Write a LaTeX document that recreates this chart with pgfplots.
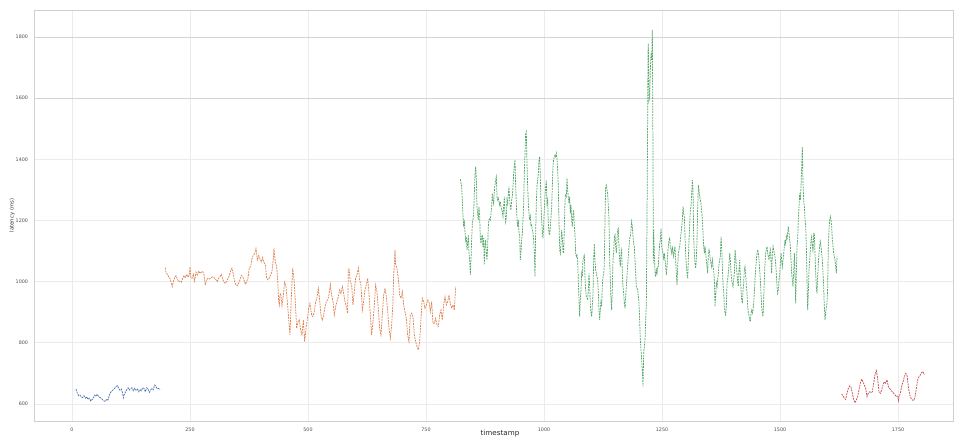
\documentclass[border=0pt]{standalone}
\usepackage{fontspec}
\setmainfont{DejaVu Sans}
\usepackage{pgfplots}
\pgfplotsset{compat=1.18}
\definecolor{sbblue}{HTML}{4C72B0}
\definecolor{sborange}{HTML}{DD8452}
\definecolor{sbgreen}{HTML}{55A868}
\definecolor{sbred}{HTML}{C44E52}
\definecolor{gridc}{HTML}{EBEBEB}
\definecolor{gridd}{HTML}{D4D4D4}
\definecolor{spine}{HTML}{D0D0D0}
\begin{document}
\begin{tikzpicture}
\begin{axis}[
  scale only axis, width=689.25pt, height=308.25pt,
  xmin=-80.5, xmax=1866.5, ymin=544.4, ymax=1888.3,
  xtick={0,250,...,1750}, ytick={600,800,...,1400},
  extra y ticks={1600,1800},
  extra y tick style={grid style={gridd, line width=0.7pt}},
  major tick length=0pt,
  grid=major, grid style={gridc, line width=0.7pt},
  axis line style={spine, line width=0.7pt},
  /pgf/number format/assume math mode=true,
  /pgf/number format/1000 sep={},
  tick label style={font=\fontsize{3.6}{4}\selectfont, text=black!70},
  yticklabel style={xshift=-1pt},
  xticklabel style={yshift=-1.5pt},
  xlabel={timestamp}, ylabel={latency (ms)},
  xlabel style={at={(axis description cs:0.507,-0.0316)}, anchor=center, font=\fontsize{5.4}{6}\selectfont, text=black!85},
  ylabel style={at={(axis description cs:-0.0239,0.5)}, anchor=center, font=\fontsize{4.0}{5}\selectfont, text=black!80},
  every axis plot/.append style={line width=0.55pt, dash pattern=on 1.4pt off 0.7pt},
]
\addplot[sbblue] coordinates {(8.5,649)(11.3,635)(14.1,627)(16.9,629)(19.8,623)(22.6,621)(25.4,627)(28.3,619)(31.1,623)(33.9,615)(36.7,619)(39.6,610)(42.4,614)(45.2,619)(48.0,629)(50.9,625)(53.7,632)(56.5,624)(59.3,621)(62.2,619)(65.0,613)(67.8,610)(70.6,608)(73.5,616)(76.3,613)(79.1,629)(81.9,638)(84.8,643)(87.6,647)(90.4,651)(93.2,657)(96.1,660)(98.9,651)(101.7,645)(104.5,649)(107.3,635)(108.8,621)(110.2,629)(113.0,638)(115.8,646)(118.7,653)(121.5,646)(124.3,651)(127.1,653)(130.0,643)(132.8,651)(135.6,645)(138.4,649)(141.3,640)(144.1,647)(146.9,643)(149.7,653)(152.6,651)(155.4,640)(158.2,653)(161.0,649)(163.9,638)(166.7,646)(169.5,651)(172.3,647)(175.2,662)(178.0,657)(180.8,649)(183.6,651)(186.4,646)};
\addplot[sborange] coordinates {(197.7,1046)(199.1,1031)(201.9,1024)(204.8,1016)(207.6,1011)(210.4,995)(212.5,984)(214.6,1000)(217.5,1013)(220.3,1020)(223.1,1009)(225.9,1000)(228.8,1002)(231.6,998)(234.4,1011)(237.2,1020)(240.1,1013)(242.9,1024)(245.7,1015)(248.5,1022)(250.0,1049)(251.4,1016)(254.2,1011)(257.0,1024)(259.8,1002)(262.7,1031)(265.5,1022)(268.3,1035)(271.1,1027)(274.0,1031)(276.8,1033)(279.6,1024)(282.4,989)(285.3,1006)(288.1,1011)(290.9,1009)(293.7,1011)(296.6,1015)(299.4,1016)(302.2,1011)(305.0,1006)(307.9,1000)(310.7,1011)(313.5,1016)(316.3,1024)(319.2,1009)(322.0,998)(324.8,995)(327.6,1000)(330.5,1011)(333.3,1020)(336.1,1035)(338.9,1044)(341.8,1024)(344.6,1000)(347.4,989)(350.2,987)(353.1,995)(355.9,1006)(358.7,1020)(361.5,1016)(364.4,1006)(367.2,991)(370.0,1000)(372.8,1011)(375.7,1046)(378.5,1049)(381.3,1074)(384.1,1087)(387.0,1092)(389.8,1109)(391.2,1093)(392.6,1071)(395.4,1085)(398.3,1074)(401.1,1065)(403.9,1079)(406.7,1063)(409.6,1055)(412.4,1011)(415.2,1006)(418.0,1013)(420.9,1022)(423.7,1033)(426.5,1076)(427.9,1109)(429.3,1087)(430.7,1065)(433.6,1049)(435.0,1022)(436.4,989)(437.8,935)(439.2,924)(440.6,956)(442.0,962)(443.5,946)(444.9,922)(447.7,956)(450.5,998)(453.3,984)(456.2,935)(459.0,880)(461.8,826)(464.6,946)(467.5,1044)(470.3,1011)(473.1,935)(475.9,847)(478.8,869)(481.6,875)(484.4,842)(487.2,826)(490.1,875)(492.9,804)(495.7,847)(498.5,875)(501.4,913)(504.2,929)(507.7,891)(510.5,886)(513.4,902)(516.2,935)(519.0,946)(521.8,978)(524.7,940)(527.5,891)(530.3,875)(533.1,891)(536.0,918)(538.8,935)(541.6,940)(544.4,956)(547.3,991)(550.1,956)(552.9,935)(555.7,891)(558.6,918)(561.4,935)(564.2,951)(567.0,973)(569.9,962)(572.7,984)(575.5,962)(578.3,935)(581.2,918)(584.0,897)(585.4,1033)(586.8,1044)(589.6,1000)(592.5,989)(595.3,924)(598.1,967)(600.9,1011)(603.8,1022)(606.6,1044)(609.4,1006)(612.2,989)(615.1,907)(617.9,935)(620.7,973)(623.5,989)(626.4,1011)(629.2,962)(632.0,891)(634.8,826)(637.7,869)(640.5,924)(643.3,989)(646.1,967)(649.0,913)(651.8,847)(654.6,826)(657.4,891)(660.3,956)(663.1,978)(665.9,951)(668.7,907)(671.6,847)(674.4,815)(677.2,858)(680.0,935)(681.4,1022)(682.9,1055)(684.3,1104)(685.7,1055)(688.5,1044)(691.3,1011)(694.2,956)(697.0,946)(699.8,967)(702.6,924)(705.5,902)(708.3,880)(711.1,826)(713.9,804)(716.8,891)(719.6,897)(722.4,886)(725.2,826)(728.1,804)(730.9,788)(733.7,777)(736.5,804)(739.4,880)(742.2,946)(745.0,935)(747.8,913)(750.7,924)(753.5,940)(756.3,935)(759.1,902)(762.0,935)(764.8,864)(767.6,864)(770.4,880)(773.3,858)(776.1,853)(778.9,891)(781.7,907)(784.6,875)(787.4,924)(790.2,951)(793.0,924)(795.9,935)(798.7,956)(801.5,929)(804.3,913)(807.2,924)(810.0,907)(812.8,984)};
\addplot[sbgreen] coordinates {(822.7,1335)(825.5,1311)(826.9,1267)(828.4,1213)(829.8,1180)(831.2,1202)(832.6,1164)(834.0,1136)(835.4,1147)(836.8,1104)(838.2,1125)(839.6,1153)(841.1,1093)(842.5,1071)(843.9,1022)(845.3,1071)(846.7,1136)(848.1,1191)(849.5,1202)(850.9,1223)(852.4,1289)(853.8,1349)(855.2,1376)(856.6,1343)(858.0,1245)(859.4,1223)(860.8,1202)(862.2,1245)(863.7,1213)(865.1,1142)(866.5,1125)(867.9,1147)(869.3,1153)(870.7,1114)(872.1,1142)(873.5,1055)(875.0,1120)(876.4,1136)(877.8,1093)(879.2,1071)(880.6,1114)(882.0,1180)(883.4,1202)(884.8,1207)(886.3,1202)(887.7,1223)(889.1,1245)(890.5,1289)(891.9,1267)(893.3,1256)(894.7,1294)(896.1,1316)(897.6,1332)(899.0,1343)(900.4,1278)(901.8,1267)(903.2,1273)(904.6,1262)(906.0,1251)(907.4,1262)(908.9,1245)(910.3,1234)(911.7,1229)(913.1,1213)(914.5,1245)(915.9,1278)(917.3,1223)(918.7,1196)(920.2,1213)(921.6,1267)(923.0,1256)(924.4,1289)(925.8,1311)(927.2,1267)(928.6,1245)(930.0,1234)(931.5,1267)(932.9,1278)(934.3,1311)(935.7,1354)(937.1,1376)(938.5,1398)(939.9,1322)(941.3,1256)(942.8,1202)(944.2,1180)(945.6,1202)(947.0,1158)(948.4,1153)(949.8,1071)(951.2,1093)(952.6,1136)(954.1,1158)(955.5,1202)(956.9,1256)(958.3,1354)(959.7,1420)(961.1,1485)(962.5,1491)(963.9,1387)(965.4,1311)(966.8,1256)(968.2,1223)(969.6,1202)(971.0,1213)(972.4,1180)(973.8,1185)(975.2,1169)(976.7,1158)(978.1,1136)(979.5,1093)(980.9,1016)(982.3,1158)(983.7,1256)(985.1,1311)(986.5,1332)(988.0,1354)(989.4,1398)(990.8,1409)(992.2,1343)(993.6,1256)(995.0,1202)(996.4,1169)(997.8,1142)(999.3,1191)(1000.7,1234)(1002.1,1278)(1003.5,1311)(1004.9,1332)(1006.3,1256)(1007.7,1267)(1009.1,1191)(1010.6,1158)(1012.0,1153)(1013.4,1180)(1014.8,1213)(1016.2,1245)(1017.6,1311)(1019.0,1376)(1020.4,1398)(1021.9,1409)(1023.3,1414)(1024.7,1409)(1026.1,1420)(1027.5,1403)(1028.9,1365)(1030.3,1311)(1031.7,1202)(1033.2,1104)(1034.6,1093)(1036.0,1125)(1037.4,1169)(1038.8,1147)(1040.2,1098)(1041.6,1093)(1043.0,1169)(1044.5,1267)(1045.9,1283)(1047.3,1278)(1048.7,1338)(1050.1,1300)(1051.5,1278)(1052.9,1256)(1054.3,1278)(1055.7,1223)(1057.2,1251)(1058.6,1202)(1060.0,1180)(1061.4,1223)(1062.8,1234)(1064.2,1180)(1065.6,1158)(1067.0,1093)(1068.5,1082)(1069.9,1087)(1071.3,1071)(1072.7,1006)(1074.1,940)(1075.5,886)(1076.9,940)(1078.3,973)(1079.8,1027)(1081.2,1016)(1082.6,1071)(1084.0,1082)(1085.4,1087)(1086.8,1016)(1088.2,973)(1089.6,951)(1091.1,946)(1092.5,940)(1093.9,973)(1095.3,1027)(1096.7,984)(1098.1,929)(1099.5,897)(1100.9,886)(1102.4,918)(1103.8,962)(1105.2,1071)(1106.6,1125)(1108.0,1071)(1109.4,1038)(1110.8,1027)(1112.2,1016)(1113.7,1006)(1115.1,962)(1116.5,907)(1117.9,875)(1119.3,907)(1120.7,940)(1122.1,918)(1123.5,984)(1125.0,1016)(1126.4,1022)(1127.8,1060)(1129.2,1202)(1130.6,1311)(1132.0,1316)(1133.4,1300)(1134.8,1289)(1136.3,1245)(1137.7,1202)(1139.1,1071)(1140.5,1006)(1141.9,940)(1143.3,907)(1144.7,973)(1146.1,1071)(1147.6,1098)(1149.0,1147)(1150.4,1153)(1151.8,1114)(1153.2,1093)(1154.6,1136)(1156.0,1169)(1157.4,1174)(1158.9,1114)(1160.3,1071)(1161.7,1049)(1163.1,1093)(1164.5,1104)(1165.9,1027)(1167.3,984)(1168.7,962)(1170.2,929)(1171.6,913)(1173.0,951)(1174.4,984)(1175.8,1016)(1177.2,1049)(1178.6,1082)(1180.0,1114)(1181.5,1142)(1182.9,1147)(1184.3,1169)(1185.7,1196)(1187.1,1180)(1188.5,1147)(1189.9,1125)(1191.3,1114)(1195.6,984)(1198.5,973)(1201.3,929)(1204.1,809)(1206.9,744)(1208.3,711)(1209.7,657)(1211.2,766)(1212.6,788)(1214.0,809)(1215.4,875)(1216.8,929)(1218.2,1202)(1219.6,1529)(1220.3,1747)(1221.0,1779)(1222.5,1594)(1223.9,1605)(1225.3,1692)(1226.7,1747)(1228.1,1725)(1229.5,1823)(1230.9,1420)(1231.6,1060)(1232.3,1169)(1233.8,1093)(1235.2,1027)(1236.6,1016)(1238.0,1038)(1239.4,1027)(1240.8,1049)(1242.2,1049)(1243.6,1093)(1245.1,1125)(1246.5,1136)(1247.9,1174)(1249.3,1115)(1250.7,1104)(1252.1,1093)(1253.5,1071)(1254.9,1093)(1256.4,1071)(1257.8,1049)(1259.2,1022)(1260.6,1049)(1262.0,1093)(1263.4,1115)(1264.8,1136)(1266.2,1142)(1267.6,1115)(1269.1,1104)(1270.5,1093)(1271.9,1115)(1273.3,1093)(1274.7,1082)(1276.1,1104)(1277.5,1115)(1278.9,1071)(1280.4,1027)(1281.8,989)(1283.2,1049)(1284.6,1093)(1286.0,1104)(1287.4,1115)(1288.8,1136)(1290.3,1158)(1291.7,1180)(1293.1,1202)(1294.5,1245)(1295.9,1224)(1297.3,1213)(1298.7,1147)(1300.1,1093)(1301.6,1049)(1303.0,1027)(1304.4,1011)(1305.8,1071)(1307.2,1136)(1308.6,1180)(1310.0,1234)(1311.4,1245)(1312.9,1289)(1314.3,1332)(1315.7,1300)(1317.1,1147)(1318.5,1093)(1319.9,1060)(1321.3,1044)(1322.7,1071)(1324.2,1136)(1325.6,1245)(1327.0,1316)(1328.4,1300)(1329.8,1278)(1331.2,1267)(1332.6,1256)(1334.0,1234)(1335.5,1202)(1336.9,1158)(1338.3,1115)(1339.7,1093)(1341.1,1115)(1342.5,1093)(1343.9,1071)(1345.3,1049)(1346.8,1027)(1348.2,1093)(1349.6,1104)(1351.0,1093)(1352.4,1071)(1353.8,1060)(1355.2,1049)(1356.6,1071)(1358.1,1049)(1359.5,1038)(1360.9,1006)(1362.3,918)(1363.7,951)(1365.1,995)(1366.5,984)(1367.9,1006)(1369.4,1027)(1370.8,1060)(1372.2,1071)(1373.6,1082)(1375.0,1147)(1376.4,1115)(1377.8,1049)(1379.2,995)(1380.7,962)(1382.1,918)(1383.5,897)(1384.9,891)(1386.3,918)(1387.7,995)(1389.1,1006)(1390.5,1027)(1392.0,1060)(1393.4,1093)(1394.8,1071)(1396.2,1027)(1397.6,1006)(1399.0,995)(1400.4,984)(1401.8,1006)(1403.3,1027)(1404.7,1104)(1406.1,1082)(1407.5,1049)(1408.9,1027)(1410.3,995)(1411.7,984)(1413.1,1038)(1414.5,1071)(1416.0,1016)(1417.4,973)(1418.8,940)(1420.2,929)(1421.6,973)(1423.0,995)(1424.4,1038)(1425.8,1049)(1427.3,1027)(1428.7,984)(1430.1,962)(1431.5,918)(1432.9,897)(1434.3,891)(1435.7,875)(1437.1,869)(1438.6,897)(1440.0,907)(1441.4,897)(1442.8,907)(1444.2,929)(1445.6,962)(1447.0,1006)(1448.4,1038)(1449.9,1071)(1451.3,1093)(1452.7,1104)(1454.1,1093)(1455.5,1071)(1456.9,1038)(1458.3,1006)(1459.7,962)(1461.2,918)(1462.6,897)(1464.0,886)(1465.4,940)(1466.8,1006)(1468.2,1060)(1469.6,1093)(1471.0,1104)(1472.5,1115)(1473.9,1093)(1475.3,1082)(1476.7,1071)(1478.1,1093)(1479.5,1104)(1480.9,1071)(1482.3,1027)(1483.8,1093)(1485.2,1115)(1486.6,1104)(1488.0,1093)(1489.4,1082)(1490.8,1060)(1492.2,1027)(1493.6,984)(1495.1,962)(1496.5,973)(1497.9,1006)(1499.3,1027)(1500.7,1060)(1502.1,1093)(1503.5,1071)(1504.9,1049)(1506.4,1071)(1507.8,1093)(1509.2,1115)(1510.6,1136)(1512.0,1125)(1513.4,1147)(1514.8,1136)(1516.2,1158)(1517.7,1180)(1519.1,1158)(1520.5,1136)(1521.9,1115)(1523.3,1071)(1524.7,1027)(1526.1,1006)(1527.5,984)(1529.0,1027)(1530.4,1093)(1531.8,1027)(1533.2,929)(1534.6,1027)(1536.0,1115)(1537.4,1136)(1538.8,1202)(1540.3,1245)(1541.7,1289)(1543.1,1267)(1544.5,1311)(1545.9,1376)(1547.3,1441)(1548.7,1322)(1550.1,1267)(1551.6,1245)(1553.0,1202)(1554.4,1180)(1555.8,1115)(1557.2,1006)(1558.6,907)(1560.0,962)(1561.4,1038)(1562.9,1071)(1564.3,1104)(1565.7,1136)(1567.1,1147)(1568.5,1115)(1569.9,1093)(1571.3,1158)(1572.7,1158)(1574.1,1093)(1575.6,1027)(1577.0,984)(1578.4,962)(1579.8,1016)(1581.2,1060)(1582.6,1093)(1584.0,1115)(1585.4,1131)(1586.9,1115)(1588.3,1093)(1589.7,1071)(1591.1,1027)(1592.5,984)(1593.9,918)(1595.3,875)(1596.7,897)(1598.2,918)(1599.6,929)(1601.0,984)(1602.4,1115)(1603.8,1169)(1605.2,1202)(1606.6,1213)(1608.0,1202)(1609.5,1180)(1610.9,1136)(1612.3,1115)(1613.7,1093)(1615.1,1082)(1616.5,1071)(1617.9,1049)(1619.3,1027)(1620.8,1082)};
\addplot[sbred] coordinates {(1630.6,633)(1633.4,626)(1636.3,619)(1639.1,615)(1641.9,635)(1644.7,651)(1647.6,659)(1650.4,655)(1653.2,635)(1656.0,615)(1658.9,604)(1661.7,613)(1664.5,624)(1667.3,646)(1670.2,668)(1673.0,681)(1675.8,673)(1678.6,662)(1681.5,651)(1684.3,624)(1687.1,635)(1689.9,640)(1692.8,637)(1695.6,640)(1698.4,668)(1701.2,695)(1704.1,709)(1706.9,684)(1709.7,640)(1712.5,635)(1715.4,646)(1718.2,662)(1721.0,673)(1723.8,668)(1726.7,679)(1729.5,657)(1732.3,651)(1735.1,644)(1738.0,640)(1740.8,635)(1743.6,630)(1746.4,624)(1749.3,626)(1750.7,611)(1752.1,624)(1754.9,635)(1757.7,657)(1760.6,673)(1763.4,689)(1766.2,700)(1769.0,695)(1771.9,657)(1774.7,630)(1777.5,619)(1780.3,613)(1783.2,611)(1786.0,624)(1788.8,651)(1791.6,679)(1794.5,689)(1797.3,695)(1800.1,703)(1802.9,706)(1805.7,695)};
\coordinate (tl) at (rel axis cs:0,1);
\coordinate (br) at (rel axis cs:1,0);
\end{axis}
\pgfresetboundingbox
\path ([shift={(-25.5pt,7.5pt)}]tl) rectangle ([shift={(0.75pt,-12.75pt)}]br);
\end{tikzpicture}
\end{document}
